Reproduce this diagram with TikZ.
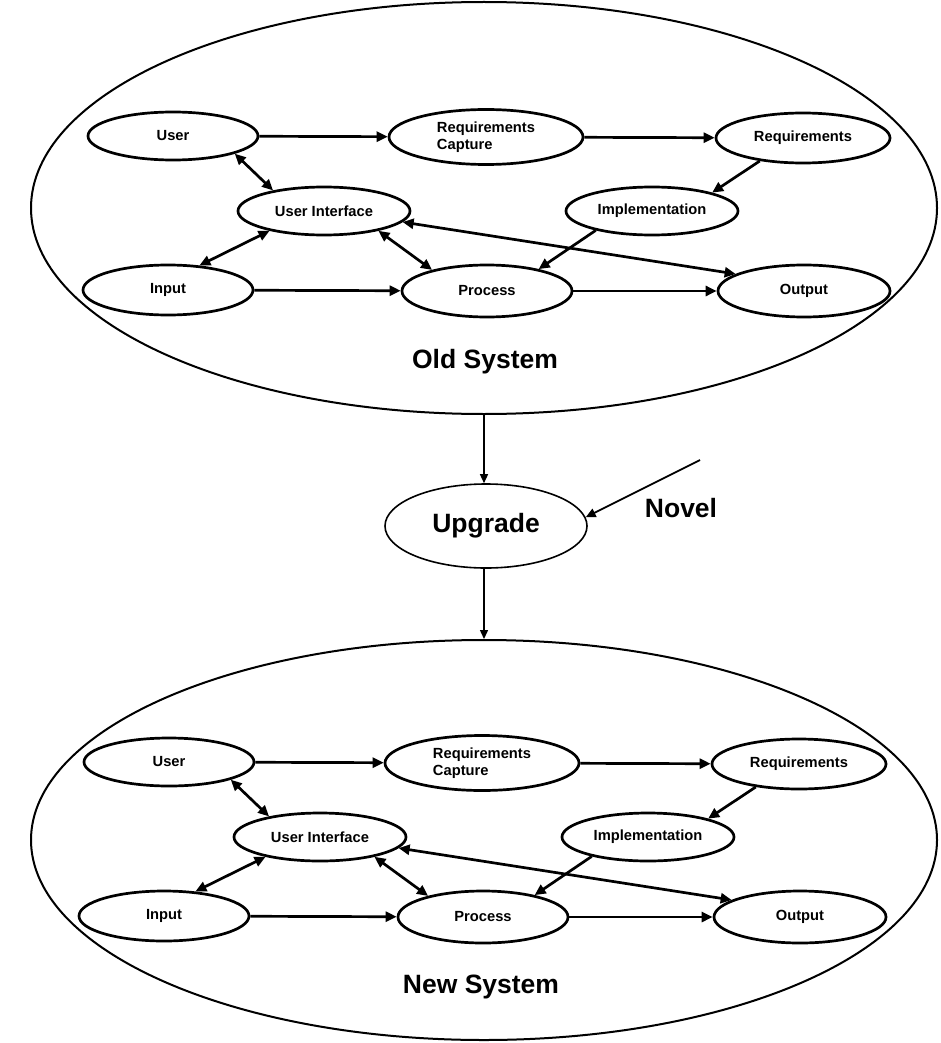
\documentclass[tikz,border=0pt]{standalone}
\usepackage{fontspec}
\setmainfont{Liberation Sans}
\usetikzlibrary{shapes.geometric,arrows.meta}
\begin{document}
\begin{tikzpicture}[x=1pt,y=-1pt,
  box/.style={ellipse,draw,line width=2.7pt,inner sep=0pt,minimum width=172pt,minimum height=50pt,align=left,font=\bfseries\fontsize{14.7}{16.5}\selectfont},
  sys/.style={ellipse,draw,line width=2pt,inner sep=0pt},
  conn/.style={line width=2.7pt,-{Triangle[length=11pt,width=10pt]}},
  bconn/.style={line width=2.7pt,{Triangle[length=11pt,width=10pt]}-{Triangle[length=11pt,width=10pt]}},
  thinconn/.style={line width=1.4pt,-{Triangle[length=9pt,width=8pt]}},
  big/.style={font=\bfseries\fontsize{26.5}{31}\selectfont}]
\useasboundingbox (0,0) rectangle (940,1043);

% system containers
\node[sys,minimum width=906pt,minimum height=412pt] (oldsys) at (484,208) {};
\node[sys,minimum width=906pt,minimum height=400pt] (newsys) at (484,840) {};
\node[big] (oldlbl) at (485,362) {Old System};
\node[big] (newlbl) at (481,987) {New System};

% upgrade
\node[sys,line width=1.6pt,minimum width=202pt,minimum height=84pt,big] (upgrade) at (486,526) {Upgrade};
\node[big] (novel) at (681,508) {Novel};
\coordinate (novelstart) at (700,460);
\draw[thinconn] (oldsys.south) -- (oldsys.south |- upgrade.north);
\draw[thinconn] (oldsys.south |- upgrade.south) -- (newsys.north);
\draw[line width=1.8pt,-{Triangle[length=10pt,width=9pt]}] (novelstart) -- (upgrade.5);

% inner diagrams
\foreach \p/\dx/\dy in {o/0/0, n/-4/626}{
  \begin{scope}[shift={(\dx,\dy)}]
    \node[box,minimum width=170pt,minimum height=48pt] (\p-user) at (173,136) {User};
    \node[box,minimum width=194pt,minimum height=55pt] (\p-rc) at (486,137) {Requirements\\Capture};
    \node[box,minimum width=174pt] (\p-req) at (803,138) {Requirements};
    \node[box,minimum height=48pt] (\p-ui) at (324,211) {User Interface};
    \node[box,minimum height=48pt] (\p-impl) at (652,211) {Implementation};
    \node[box,minimum width=170pt] (\p-input) at (168,290) {Input};
    \node[box,minimum width=170pt,minimum height=52pt] (\p-proc) at (487,291) {Process};
    \node[box,minimum height=52pt] (\p-out) at (804,291) {Output};

    \draw[conn] (\p-user) -- (\p-rc);
    \draw[conn] (\p-rc) -- (\p-req);
    \draw[conn] (\p-req.208) -- (\p-impl.17);
    \draw[bconn] (\p-user.-16) -- (\p-ui.158);
    \draw[bconn] (\p-ui.200) -- (\p-input.38);
    \draw[bconn] (\p-ui.-20) -- (\p-proc.159);
    \draw[bconn] (\p-ui.-8) -- (\p-out.166);
    \draw[conn] (\p-impl.199) -- (\p-proc.23);
    \draw[conn] (\p-input) -- (\p-proc);
    \draw[conn] (\p-proc) -- (\p-out);
  \end{scope}
}
\end{tikzpicture}
\end{document}
